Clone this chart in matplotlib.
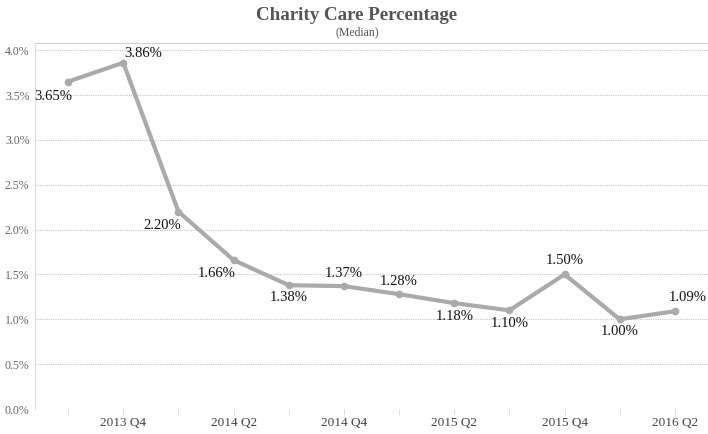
import matplotlib.pyplot as plt
import numpy as np

quarters = ['2013 Q3', '2013 Q4', '2014 Q1', '2014 Q2', '2014 Q3', '2014 Q4',
            '2015 Q1', '2015 Q2', '2015 Q3', '2015 Q4', '2016 Q1', '2016 Q2']
values = [3.65, 3.86, 2.20, 1.66, 1.38, 1.37, 1.28, 1.18, 1.10, 1.50, 1.00, 1.09]
# label placement: (dx, dy) in points relative to the marker
offsets = [(-11, -11), (14, 7), (-12, -10), (-12, -10), (0, -8.5), (0, 9),
           (0, 9), (0, -9.5), (0, -9.5), (0, 10), (0, -9), (9, 10)]

plt.rcParams['font.family'] = ['Liberation Serif', 'DejaVu Serif']

fig = plt.figure(figsize=(7.08, 4.34), dpi=100)
ax = fig.add_axes([35 / 708, 1 - 409 / 434, 673 / 708, 366 / 434])

x = np.arange(len(quarters))
ax.plot(x, values, color='#aaaaaa', lw=3, marker='o', ms=4.5,
        solid_capstyle='round', solid_joinstyle='round', zorder=3)

for xi, v, (dx, dy) in zip(x, values, offsets):
    ax.annotate('{:.2f}%'.format(v), (xi, v), xytext=(dx, dy),
                textcoords='offset points', ha='center', va='center',
                fontsize=10.5, color='#111111', zorder=4)

ax.set_xlim(-0.6, 11.6)
ax.set_ylim(0, 4.08)
yt = np.arange(0, 4.01, 0.5)
ax.set_yticks(yt)
ax.set_yticklabels(['{:.1f}%'.format(t) for t in yt])
ax.set_xticks(x[1::2])
ax.set_xticklabels(quarters[1::2])
ax.set_xticks(x, minor=True)

ax.grid(axis='y', color='#c8c8c8', ls=(0, (1, 1)), lw=0.8)
ax.set_axisbelow(True)
ax.spines['right'].set_visible(False)
ax.spines['left'].set_color('#dddddd')
ax.spines['top'].set_color('#d0d0d0')
ax.spines['bottom'].set_visible(False)
ax.tick_params(axis='y', length=0, labelsize=8.5, labelcolor='#666666', pad=4)
ax.tick_params(axis='x', which='both', length=4, color='#dddddd',
               labelsize=9.5, labelcolor='#444444', pad=2)

fig.text(357 / 708, 1 - 15 / 434, 'Charity Care Percentage',
         ha='center', va='center', fontsize=13.7, fontweight='bold', color='#555555')
fig.text(357 / 708, 1 - 32 / 434, '(Median)',
         ha='center', va='center', fontsize=8.5, color='#555555')

fig.savefig('out.png', dpi=100)
